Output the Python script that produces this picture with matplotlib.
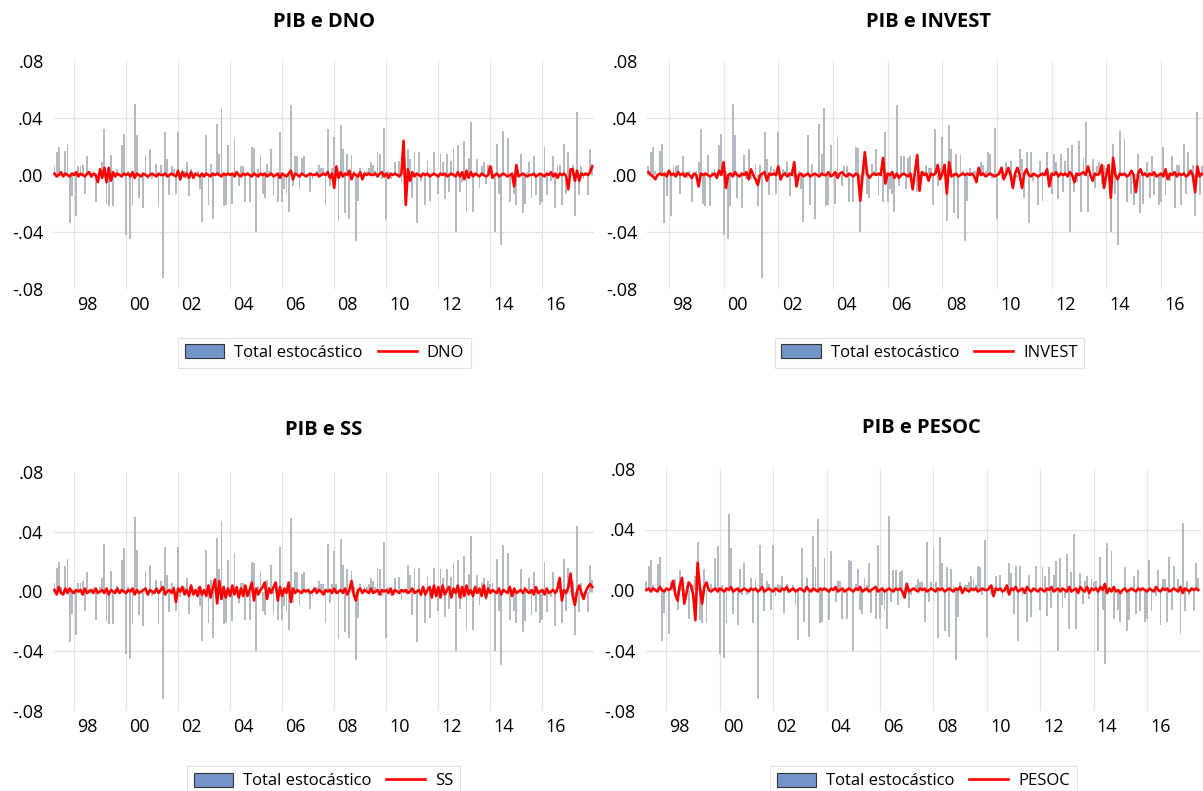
import numpy as np
import matplotlib.pyplot as plt
from matplotlib.patches import Patch
from matplotlib.lines import Line2D

plt.rcParams['font.family'] = ['Open Sans', 'DejaVu Sans']

# monthly data from 1997M04 to 2017M12, values in thousandths
# Total estocastico (same series on every panel)
total_estoc = [
    6, 16, 20, 3, -1, 17, 22, -34, -15,
    2, -29, 6, 6, 7, -13, 13, 2, -2, 3, -19, 1,
    3, 9, 32, -20, -22, 14, -22, 2, 4, 1, 21, 29,
    -42, 3, -45, -22, 50, 28, -16, 1, -23, 14, -3, 18,
    -3, 1, 8, -22, 7, -72, 30, 11, -14, 6, 4, -13,
    30, -4, 4, 3, 9, -15, 4, -2, 1, 3, -10, -33,
    1, 28, -21, 8, -31, 1, 36, 15, 47, -22, -21, 21,
    1, -20, 26, 1, -8, 6, 6, -19, 1, -19, 20, 19,
    -40, 4, 14, -13, -16, 8, 3, 18, -15, 1, -19, 30,
    -19, -10, -13, -26, 49, -8, 13, 13, -10, 12, 13, 1,
    1, -12, -3, 1, 3, 7, 5, 5, -21, 32, -8, 5,
    27, 5, -32, 35, 18, -27, 15, -31, 14, 3, -46, -18,
    5, 0, 3, 3, 5, 9, 7, 3, 16, 15, -3, 33,
    -31, 3, -3, 1, 9, 1, 10, -5, 2, -2, 18, 11,
    -16, 16, -34, 16, -4, 1, -21, 10, -18, 1, 16, -1,
    -13, 15, 9, -17, 15, -12, 10, 19, -40, 21, -12, -5,
    24, -26, 12, 37, -26, 1, 11, -9, 6, 9, -6, 7,
    5, 6, -40, 22, -13, -49, 31, 1, 26, -19, -1, -13,
    -21, 1, 15, -27, -20, 2, 9, -16, 13, -14, 1, -21,
    -19, 20, -14, -1, -4, 13, -23, 7, 7, -21, 22, -13,
    16, 1, 7, -29, 44, -14, 6, -3, 1, -14, 18, 8,
]

dno = [
    1, -1, 0, 2, -1, 1, 0, -1, 1,
    0, 2, -1, 1, 0, -1, 1, 2, -1, 1, 0, -5,
    4, -2, 5, -5, 5, -4, 2, -1, 1, 0, -1, 1,
    0, 1, -1, 2, -2, 1, 0, -1, 1, 0, -1, 0,
    1, 0, -1, 1, 0, 0, 1, -1, 0, 1, 0, -1,
    3, -3, 2, -1, 1, -2, 2, -2, 1, 0, -1, 1,
    -1, 1, 0, -1, 1, 0, 1, 0, -1, 1, 0, 1,
    0, 1, -1, 2, 0, -1, 1, 0, 1, 0, -1, 1,
    0, -1, 1, 0, 1, -1, 0, 1, -1, 0, 1, -2,
    1, 0, -1, 1, 3, -3, 1, 0, -1, 1, 0, -1,
    0, 1, 0, 0, 1, -1, 0, 1, 0, 2, -2, 1,
    -9, 6, -2, 2, -1, 1, 0, 3, -3, 1, 0, -1,
    2, -3, 1, 0, 1, 0, 0, 1, -1, 1, 2, -1,
    1, -2, 1, 0, 1, 0, -1, 1, 24, -21, 4, -4,
    2, -1, 1, 0, -1, 1, 0, 1, -1, 0, 1, 0,
    -1, 1, 0, 1, -1, 0, 1, 0, -1, 2, -1, 2,
    -3, 3, -2, 2, -1, 1, 0, -1, 1, 0, -1, 0,
    6, -2, 0, 1, -1, 0, 1, 0, -1, 0, 1, -8,
    7, -1, 0, 1, 0, -1, 0, 0, 1, -1, 0, 1,
    0, -1, 1, 0, 2, -1, 1, -2, 1, 0, 1, -1,
    -10, 4, 4, -4, 3, -4, 1, 0, 1, 0, 2, 6,
]

invest = [
    2, 0, -1, -3, 0, 1, 0, 1, -1,
    3, 0, 1, -1, 2, 0, 1, -1, 1, 0, -2, 1,
    0, -8, 1, 0, 1, 0, -1, 0, 1, -2, 3, 0,
    9, -9, 0, 1, -1, 2, 0, -1, 1, 0, 2, -3,
    4, 0, -3, -7, 0, 1, 2, -4, 1, 0, 1, 0,
    6, -3, 0, 1, -1, 1, 0, 9, -8, 0, 1, -1,
    0, 1, -1, 0, 1, 0, -1, 1, 0, 0, 2, -1,
    0, 2, -2, 1, 2, 0, -1, 1, 0, -1, 1, 0,
    -18, 0, 16, 1, -2, 0, 1, 0, 1, 0, 12, -6,
    1, 0, 2, -2, 1, -2, 0, 1, 0, -1, 1, -10,
    2, 14, -11, 2, 0, 1, -4, 1, 0, 1, 7, -3,
    1, 7, -13, 9, -1, 0, 1, -1, 0, 1, 0, 1,
    0, 1, -1, -5, 5, 0, 1, -1, 0, 1, 0, -1,
    0, 1, 5, -3, 1, 5, 0, -9, 1, 5, 0, -9,
    1, 4, 0, -1, 1, 0, -1, 0, 1, 0, 4, -8,
    1, 0, 2, -1, 1, 0, 1, -1, 2, 0, -5, 1,
    0, 1, 2, 0, 6, 0, -4, 1, 0, 1, 7, -9,
    0, 7, -16, 12, 0, -3, 1, 0, 1, -1, 0, 3,
    0, -12, 1, 4, 0, 1, -1, 1, 0, 2, -1, 0,
    1, -1, 4, -3, 1, 0, 2, -1, 1, 0, 1, -1,
    0, 3, 0, -12, 6, -1, 1, 0, -1, 1, 0, 1,
]

ss = [
    1, -2, 3, -1, -2, 2, -1, 2, 0,
    -1, 1, 0, 1, -2, 2, -1, 0, 1, -1, 2, -1,
    0, 1, -1, 2, -2, 1, 0, -1, 2, -1, 1, 0,
    -1, 1, 0, 2, -2, 1, -1, 0, 1, 2, -2, 1,
    0, -1, 2, -1, 1, 3, -2, 0, 1, -1, 2, -7,
    2, 0, 3, -2, 1, -3, 4, -2, 1, -3, 3, -2,
    1, -3, 4, -4, 2, 8, -8, 7, -5, 3, -4, 2,
    -3, 4, -2, 3, -4, 2, -3, 4, -3, 1, 6, -6,
    2, -2, 1, 3, 6, -5, 2, -1, 3, 6, -6, 3,
    -3, 2, -1, 6, -7, 2, -1, 1, 0, -1, 1, 0,
    1, -1, 0, 2, -1, 1, 0, -2, 1, 0, 1, -1,
    2, -1, 0, 1, -1, 2, -2, 1, 7, -2, -6, 1,
    2, -1, 1, 0, -1, 2, -1, 0, 1, -2, 1, 0,
    1, -1, 2, -2, 1, 0, -1, 1, 0, 1, -1, 0,
    2, -1, 0, 1, -2, 3, -2, 1, 3, -4, 4, -3,
    3, -4, 4, -2, 1, 3, -4, 2, -1, 4, -4, 3,
    -3, 4, -2, 1, -3, 3, -1, 2, -3, 4, -4, 2,
    -1, 1, 0, -1, 2, -2, 1, 0, -1, 3, -3, 2,
    -1, 0, 1, -1, 2, 0, -1, 1, -2, 3, -1, 0,
    1, -2, 2, -1, 0, 1, -1, 2, 9, -6, 1, -1,
    3, 12, -3, -9, 0, 4, -1, -5, 0, 3, 5, 3,
]

pesoc = [
    0, 1, -1, 1, 0, -1, 2, 0, -1,
    1, 0, 1, 6, -3, -7, 3, 8, -9, -2, 5, 3,
    -3, -20, 18, 2, -9, 2, 5, 0, -1, 0, 1, -1,
    1, 0, -1, 1, 0, 2, -1, 0, 1, -1, 0, 1,
    0, -1, 1, 0, 1, -1, 0, 2, -1, 0, 1, 0,
    -1, 1, 0, -1, 1, 0, 2, -1, 0, 1, -1, 0,
    1, 0, -1, 2, 0, -1, 1, 0, -1, 1, 0, 1,
    0, -1, 1, 0, 2, -1, 0, 1, -1, 0, 1, 0,
    -1, 1, 0, 2, -1, 0, 1, -1, 0, 1, 2, -1,
    0, 1, -1, 0, 1, 0, -1, 1, 0, 1, -1, -5,
    4, -1, 0, 1, 0, -1, 1, 0, 1, -1, 0, 1,
    0, -1, 1, 0, 1, -1, 0, 1, 0, -1, 1, 0,
    2, -2, 1, 0, -1, 1, 0, 1, -1, 0, 1, 0,
    0, 1, 3, -4, 1, 0, 1, -1, 0, 3, -3, 1,
    0, 2, -1, 0, 1, -2, 2, 0, -1, 1, 0, -1,
    1, 0, -1, 1, 0, 2, -1, 0, 1, -1, 1, 0,
    -1, 2, -1, 0, 1, -2, 2, 0, -1, 2, -2, 1,
    0, 1, -1, 2, 0, 4, -2, 1, -1, 2, -1, 0,
    -2, 0, 1, -1, 0, 1, 0, -1, 1, 0, 1, 0,
    -1, 1, 0, -1, 2, 0, -1, 1, 0, 1, -1, 0,
    1, 0, -1, 2, -2, 1, 0, -1, 1, 0, 1, 0,
]

y_ticks = [0.08, 0.04, 0.0, -0.04, -0.08]
y_ticklabels = ['.08', '.04', '.00', '-.04', '-.08']
year_ticks = list(range(1998, 2017, 2))
year_labels = ['98', '00', '02', '04', '06', '08', '10', '12', '14', '16']

W, H = 1203, 791

# panel layout in pixels: (name, series, left, right, top, bottom, title xy, legend xy)
panels = [
    ('DNO', dno, 53.2, 594.4, 61, 289, (324, 22), (324.5, 352.5)),
    ('INVEST', invest, 647.1, 1215.6, 61, 289, (929, 22), (929.5, 352.5)),
    ('SS', ss, 53.2, 594.4, 472, 711, (324, 430), (323.5, 781)),
    ('PESOC', pesoc, 645.1, 1200.5, 469, 711, (921, 428), (923.5, 781)),
]

n = len(total_estoc)
t = 1997.25 + np.arange(n) / 12.0
bars = np.array(total_estoc) / 1000.0

fig = plt.figure(figsize=(W / 100, H / 100), dpi=100)

for name, series, left, right, top, bottom, title_xy, leg_xy in panels:
    ax = fig.add_axes([left / W, 1 - bottom / H, (right - left) / W, (bottom - top) / H])
    ax.bar(t, bars, width=0.85 / 12, color='#B5BAC1', linewidth=0, zorder=2)
    ax.plot(t, np.array(series) / 1000.0, color='red', lw=1.9, zorder=3)

    ax.set_xlim(1997.2, 2018.0)
    ax.set_ylim(-0.08, 0.08)
    for s in ax.spines.values():
        s.set_visible(False)

    ax.set_xticks(year_ticks)
    ax.set_xticklabels([])
    ax.set_xticks([y + 0.5 for y in year_ticks], minor=True)
    ax.set_xticklabels(year_labels, minor=True)
    ax.set_yticks(y_ticks)
    ax.set_yticklabels(y_ticklabels)
    ax.tick_params(axis='both', which='both', length=0, labelsize=13, colors='black')
    ax.tick_params(axis='x', which='minor', pad=5)
    ax.tick_params(axis='y', pad=7)

    ax.grid(True, axis='x', which='major', color='#E3E3E3', linewidth=0.9, zorder=0)
    for yv in (0.04, 0.0, -0.04):
        ax.axhline(yv, color='#E3E3E3', linewidth=0.9, zorder=0)

    fig.text(title_xy[0] / W, 1 - title_xy[1] / H, 'PIB e ' + name,
             ha='center', va='center', fontsize=14.5, fontweight='bold')

    handles = [Patch(facecolor='#7294CB', edgecolor='#333333', linewidth=0.8),
               Line2D([], [], color='red', lw=1.9)]
    leg = fig.legend(handles, ['Total estocástico', name], loc='center',
                     bbox_to_anchor=(leg_xy[0] / W, 1 - leg_xy[1] / H), ncol=2,
                     fontsize=12, frameon=True, fancybox=False, edgecolor='#DADADA',
                     handlelength=2.35, handleheight=0.9, handletextpad=0.6,
                     columnspacing=0.9, borderpad=0.4)
    leg.get_frame().set_linewidth(0.8)

fig.savefig('out.png', dpi=100)
